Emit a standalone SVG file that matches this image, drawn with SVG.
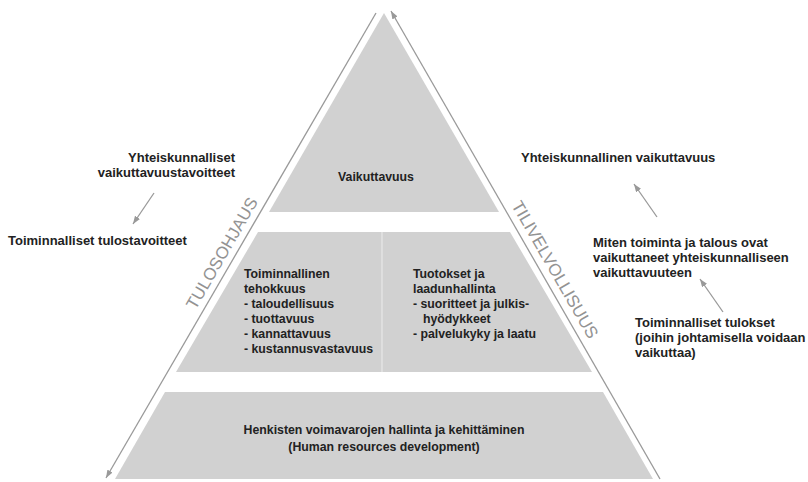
<svg xmlns="http://www.w3.org/2000/svg" width="808" height="482" viewBox="0 0 808 482">
<style>
.sec{fill:#d1d1d1;stroke:none}
.t{font-family:"Liberation Sans",Arial,sans-serif;font-weight:bold;fill:#222}
.in{font-size:12.3px}
.out{font-size:13px}
.side{font-family:"Liberation Sans",Arial,sans-serif;font-size:17px;fill:#939393}
.ln{stroke:#999;stroke-width:1.3;fill:none}
</style>
<defs>
<marker id="ah" markerUnits="userSpaceOnUse" markerWidth="9" markerHeight="6" refX="8" refY="3" orient="auto">
<path d="M0,0 L8,3 L0,6 Z" fill="#999"/>
</marker>
</defs>
<rect width="808" height="482" fill="#fff"/>
<g id="top-section">
<polygon class="sec" points="384,13 499,212 269,212"/>
<text class="t in" x="376" y="181" text-anchor="middle">Vaikuttavuus</text>
</g>
<g id="middle-section">
<polygon class="sec" points="258,232 510,232 592,372 176,372"/>
<line x1="382" y1="232" x2="382" y2="372" stroke="#e8e8e8" stroke-width="1.2"/>
<text class="t in" x="244" y="278">
<tspan x="244" y="278">Toiminnallinen</tspan>
<tspan x="244" y="293">tehokkuus</tspan>
<tspan x="244" y="308">- taloudellisuus</tspan>
<tspan x="244" y="323">- tuottavuus</tspan>
<tspan x="244" y="338">- kannattavuus</tspan>
<tspan x="244" y="353">- kustannusvastavuus</tspan>
</text>
<text class="t in" x="413" y="278">
<tspan x="413" y="278">Tuotokset ja</tspan>
<tspan x="413" y="293">laadunhallinta</tspan>
<tspan x="413" y="308">- suoritteet ja julkis-</tspan>
<tspan x="423" y="323">hyödykkeet</tspan>
<tspan x="413" y="338">- palvelukyky ja laatu</tspan>
</text>
</g>
<g id="bottom-section">
<polygon class="sec" points="165,392 603,392 653,479 115,479"/>
<text class="t in" x="384" y="434" text-anchor="middle">Henkisten voimavarojen hallinta ja kehittäminen</text>
<text class="t in" x="384" y="451" text-anchor="middle">(Human resources development)</text>
</g>
<g id="connectors">
<line class="ln" x1="376" y1="13" x2="106" y2="478" marker-end="url(#ah)"/>
<line class="ln" x1="660" y1="479" x2="391" y2="11" marker-end="url(#ah)"/>
<line class="ln" x1="154" y1="193" x2="133" y2="224" marker-end="url(#ah)"/>
<line class="ln" x1="657" y1="217" x2="634" y2="184" marker-end="url(#ah)"/>
<line class="ln" x1="723" y1="312" x2="700" y2="279" marker-end="url(#ah)"/>
</g>
<g id="label-tulosohjaus">
<text class="side" x="227" y="256" text-anchor="middle" transform="rotate(-60 227 256)">TULOSOHJAUS</text>
</g>
<g id="label-tilivelvollisuus">
<text class="side" x="550" y="272.5" text-anchor="middle" transform="rotate(60 550 272.5)">TILIVELVOLLISUUS</text>
</g>
<g id="left-goals">
<text class="t out" x="235" y="162" text-anchor="end">Yhteiskunnalliset</text>
<text class="t out" x="235" y="177" text-anchor="end">vaikuttavuustavoitteet</text>
</g>
<g id="left-targets">
<text class="t out" x="8" y="245">Toiminnalliset tulostavoitteet</text>
</g>
<g id="right-impact">
<text class="t out" x="521" y="162">Yhteiskunnallinen vaikuttavuus</text>
</g>
<g id="right-how">
<text class="t out" x="593" y="247">Miten toiminta ja talous ovat</text>
<text class="t out" x="593" y="262">vaikuttaneet yhteiskunnalliseen</text>
<text class="t out" x="593" y="277">vaikuttavuuteen</text>
</g>
<g id="right-results">
<text class="t out" x="635" y="327">Toiminnalliset tulokset</text>
<text class="t out" x="635" y="342">(joihin johtamisella voidaan</text>
<text class="t out" x="635" y="357">vaikuttaa)</text>
</g>
</svg>
